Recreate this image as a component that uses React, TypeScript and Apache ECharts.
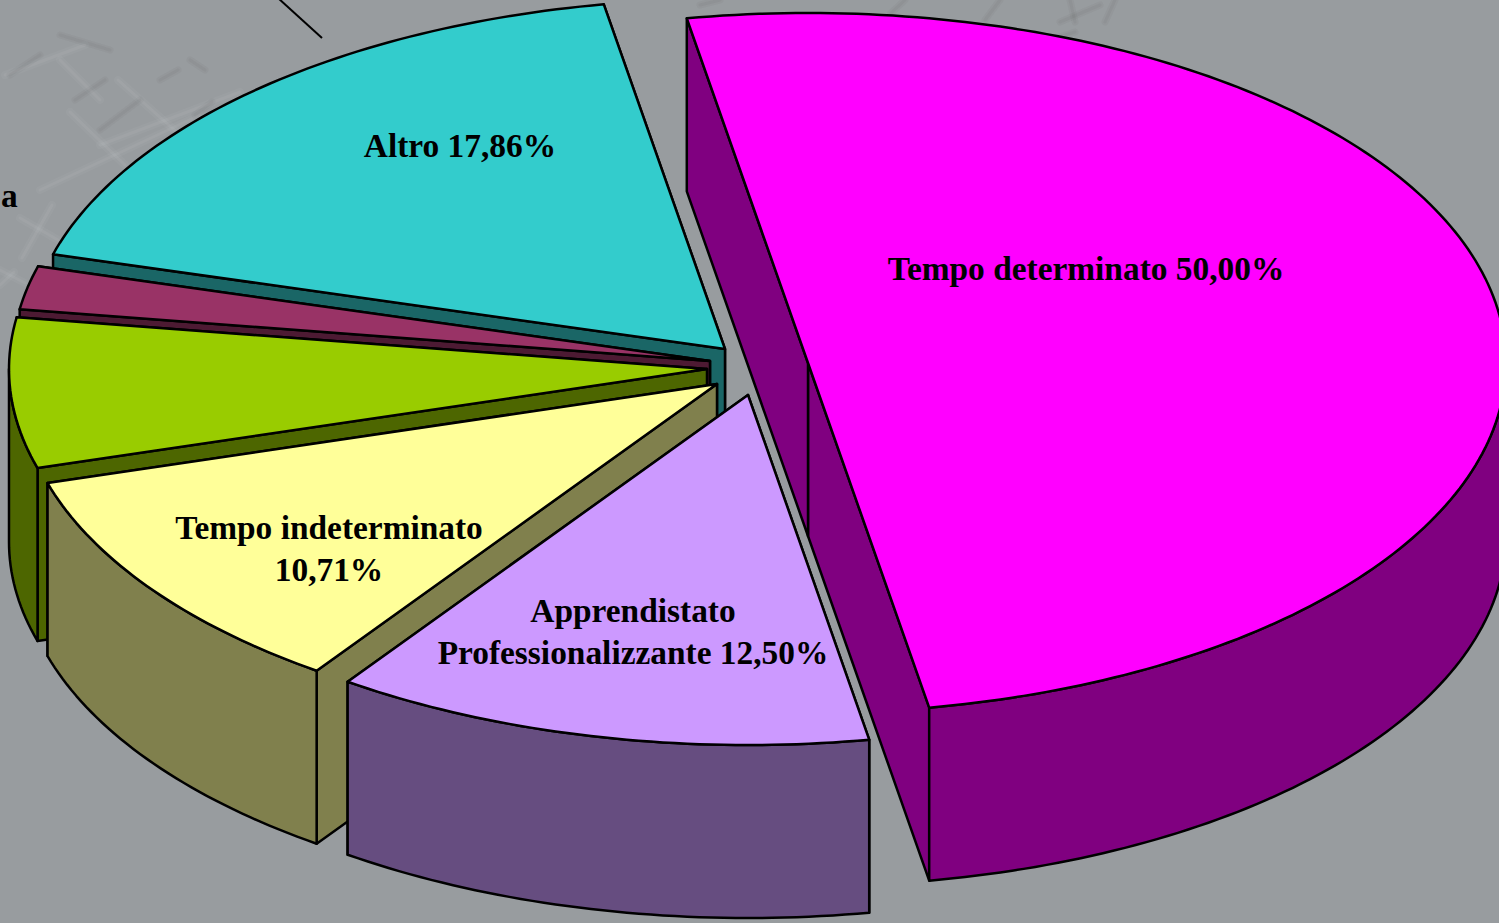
import React, { useEffect, useRef } from "react";
import * as echarts from "echarts";

const categories = ["Altro", "Altra forma", "Contratto a progetto", "Tempo indeterminato", "Apprendistato Professionalizzante", "Tempo determinato"];
const values = [17.86, 2.0, 6.93, 10.71, 12.5, 50.0];
const labelLines = [
  ["Altro 17,86%"],
  [],
  [],
  ["Tempo indeterminato", "10,71%"],
  ["Apprendistato", "Professionalizzante 12,50%"],
  ["Tempo determinato 50,00%"],
];
const topColors = ["#33cccc", "#993366", "#99cc00", "#ffff99", "#cc99ff", "#ff00ff"];
const sideColors = ["#1a6666", "#4d1a33", "#4d6600", "#80804d", "#664d80", "#800080"];

// Layout of the exploded pie (pixels)
const apexes = [[725, 349], [710, 361], [707, 369], [717, 384], [748, 395], [808, 363]];
const labelCentres = [[460, 145], null, null, [329, 527], [633, 610], [1086, 268]];
const RX = 698;
const RY = 350;
const DEPTH = 173;
const START_DEG = 100;
const LINE_H = 42;

const faintLight = [
  [[20, 218], [58, 240]], [[22, 258], [52, 205]], [[40, 190], [200, 115]], [[100, 145], [240, 92]],
  [[70, 112], [125, 165]], [[118, 80], [180, 135]], [[5, 75], [85, 45]], [[60, 60], [100, 100]],
  [[0, 285], [14, 272]], [[0, 270], [25, 283]],
];
const faintDark = [
  [[75, 100], [105, 80]], [[100, 130], [140, 100]], [[160, 80], [178, 70]], [[190, 60], [205, 70]],
  [[195, 115], [212, 102]], [[10, 75], [40, 55]], [[60, 35], [110, 50]],
  [[985, 20], [1000, 0]], [[1060, 22], [1100, 5]], [[1075, 22], [1070, 0]], [[1105, 22], [1115, 0]],
  [[700, 5], [720, 0]], [[890, 14], [905, 0]], [[1050, 40], [1075, 32]],
];

const point = (cx: number, cy: number, deg: number, drop = 0): number[] => {
  const t = (deg * Math.PI) / 180;
  return [cx + RX * Math.cos(t), cy - RY * Math.sin(t) + drop];
};

const arc = (cx: number, cy: number, from: number, to: number, drop = 0): number[][] => {
  const n = Math.max(2, Math.ceil(Math.abs(to - from)));
  const out: number[][] = [];
  for (let k = 0; k <= n; k++) out.push(point(cx, cy, from + ((to - from) * k) / n, drop));
  return out;
};

const renderSlice = (params: any, api: any) => {
  const i = params.dataIndex;
  const total = values.reduce((s, v) => s + v, 0);
  const before = values.slice(0, i).reduce((s, v) => s + v, 0);
  const from = START_DEG + (before / total) * 360;
  const to = from + (api.value(0) / total) * 360;
  const [cx, cy] = apexes[i];
  const line = { stroke: "#000", lineWidth: 2.5, lineJoin: "round" };
  const side = { ...line, fill: sideColors[i] };
  const poly = (points: number[][], style: any) => ({ type: "polygon", shape: { points }, style });
  const children: any[] = [];
  const cut = (deg: number) => {
    const p = point(cx, cy, deg);
    children.push(poly([[cx, cy], p, [p[0], p[1] + DEPTH], [cx, cy + DEPTH]], side));
  };
  cut(from);
  cut(to);
  const rimFrom = Math.max(from, 180);
  const rimTo = Math.min(to, 360);
  if (rimTo > rimFrom) {
    children.push(poly([...arc(cx, cy, rimFrom, rimTo), ...arc(cx, cy, rimTo, rimFrom, DEPTH)], side));
  }
  children.push(poly([[cx, cy], ...arc(cx, cy, from, to)], { ...line, fill: topColors[i] }));
  const centre = labelCentres[i];
  if (centre) {
    labelLines[i].forEach((text, k) => {
      children.push({
        type: "text",
        z2: 10,
        style: {
          text,
          x: centre[0],
          y: centre[1] + k * LINE_H,
          align: "center",
          verticalAlign: "middle",
          fill: "#000",
          font: 'bold 33.4px "Liberation Serif"',
        },
      });
    });
  }
  return { type: "group", children };
};

const faint = (pts: number[][], stroke: string, lineWidth: number) => ({
  type: "line",
  silent: true,
  shape: { x1: pts[0][0], y1: pts[0][1], x2: pts[1][0], y2: pts[1][1] },
  style: { stroke, lineWidth, lineCap: "round" },
  z: 0,
});

export default function App() {
  const ref = useRef<HTMLDivElement>(null);
  useEffect(() => {
    if (!ref.current) return;
    const chart = echarts.init(ref.current, undefined, { renderer: "svg" });
    chart.setOption({
      animation: false,
      backgroundColor: "#989c9f",
      graphic: {
        elements: [
          ...faintLight.map((p) => faint(p, "rgba(255,255,255,0.035)", 8)),
          ...faintLight.map((p) => faint(p, "rgba(255,255,255,0.05)", 3)),
          ...faintDark.map((p) => faint(p, "rgba(60,60,60,0.04)", 7)),
          ...faintDark.map((p) => faint(p, "rgba(60,60,60,0.05)", 3)),
          { type: "line", shape: { x1: 278, y1: -2, x2: 322, y2: 38 }, style: { stroke: "#000", lineWidth: 2 } },
          {
            type: "text",
            style: { text: "a", x: 1, y: 195, verticalAlign: "middle", fill: "#000", font: 'bold 33.4px "Liberation Serif"' },
          },
        ],
      },
      series: [
        {
          type: "custom",
          coordinateSystem: "none",
          silent: true,
          clip: false,
          data: values.map((v, i) => ({ name: categories[i], value: [v] })),
          renderItem: renderSlice,
        },
      ],
    });
    return () => chart.dispose();
  }, []);
  return <div ref={ref} style={{ position: "fixed", left: 0, top: 0, width: 1499, height: 923 }} />;
}
